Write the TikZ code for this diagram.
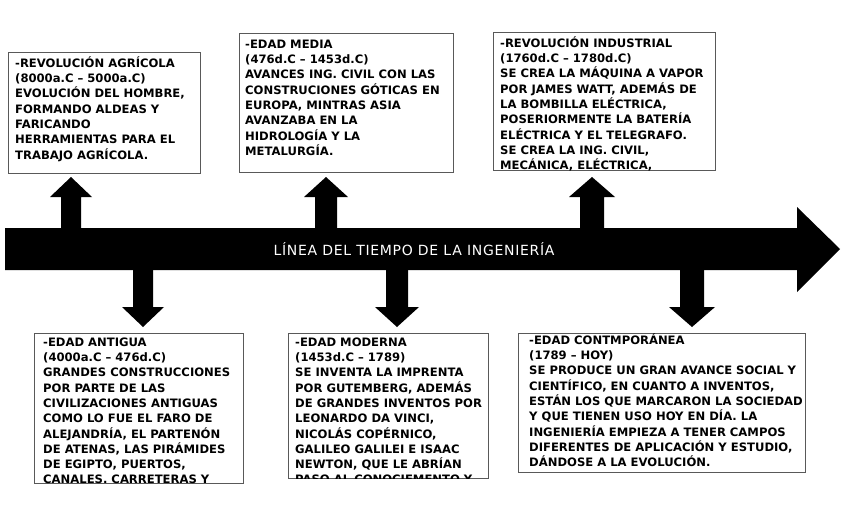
\documentclass[tikz,border=0pt]{standalone}
\usepackage{fontspec}
\setmainfont{DejaVu Sans}
\newfontfamily\titlefont[LetterSpace=5]{DejaVu Sans}
\begin{document}
\begin{tikzpicture}[x=1pt,y=-1pt,
  infobox/.style={draw=black!65,line width=0.9pt,fill=white},
  infotext/.style={anchor=north west,inner sep=0pt,align=left,font=\bfseries\fontsize{11.6}{15.3}\selectfont},
  blockarrow/.style={fill=black,draw=none}]
\useasboundingbox (0,0) rectangle (848,515);
\fill[white] (0,0) rectangle (848,515);
% main arrow
\fill[blockarrow] (5,228) -- (797,228) -- (797,207) -- (840,249) -- (797,292) -- (797,270) -- (5,270) -- cycle;
\node[text=white,font=\titlefont\fontsize{14}{16}\selectfont] (title) at (414,249) {LÍNEA DEL TIEMPO DE LA INGENIERÍA};
% up arrows
\foreach \c/\w/\h in {71/10/21, 326/11/22, 592/12/23}{
  \fill[blockarrow] (\c-\w,228) -- (\c-\w,197) -- (\c-\h,197) -- (\c,177) -- (\c+\h,197) -- (\c+\w,197) -- (\c+\w,228) -- cycle;
}
% down arrows
\foreach \c/\w/\h in {143/10/21, 397/11/22, 692/12/23}{
  \fill[blockarrow] (\c-\w,270) -- (\c-\w,307) -- (\c-\h,307) -- (\c,327) -- (\c+\h,307) -- (\c+\w,307) -- (\c+\w,270) -- cycle;
}
% boxes
\draw[infobox] (8,52) rectangle (200,173);
\draw[infobox] (239,33) rectangle (453,172);
\draw[infobox] (493,32) rectangle (715,170);
\draw[infobox] (34,333) rectangle (243,483);
\draw[infobox] (288,333) rectangle (488,478);
\draw[infobox] (518,333) rectangle (805,472);
\begin{scope}
\clip (8,52) rectangle (200,173);
\node[infotext] (t1) at (15,55) {\rule{0pt}{12pt}-REVOLUCIÓN AGRÍCOLA\\(8000a.C – 5000a.C)\\EVOLUCIÓN DEL HOMBRE,\\FORMANDO ALDEAS Y\\FARICANDO\\HERRAMIENTAS PARA EL\\TRABAJO AGRÍCOLA.};
\end{scope}
\begin{scope}
\clip (239,33) rectangle (453,172);
\node[infotext] (t2) at (245,36) {\rule{0pt}{12pt}-EDAD MEDIA\\(476d.C – 1453d.C)\\AVANCES ING. CIVIL CON LAS\\CONSTRUCIONES GÓTICAS EN\\EUROPA, MINTRAS ASIA\\AVANZABA EN LA\\HIDROLOGÍA Y LA\\METALURGÍA.};
\end{scope}
\begin{scope}
\clip (493,32) rectangle (715,170);
\node[infotext] (t3) at (500,35) {\rule{0pt}{12pt}-REVOLUCIÓN INDUSTRIAL\\(1760d.C – 1780d.C)\\SE CREA LA MÁQUINA A VAPOR\\POR JAMES WATT, ADEMÁS DE\\LA BOMBILLA ELÉCTRICA,\\POSERIORMENTE LA BATERÍA\\ELÉCTRICA Y EL TELEGRAFO.\\SE CREA LA ING. CIVIL,\\MECÁNICA, ELÉCTRICA,};
\end{scope}
\begin{scope}
\clip (34,333) rectangle (243,483);
\node[infotext] (t4) at (43,334) {\rule{0pt}{12pt}-EDAD ANTIGUA\\(4000a.C – 476d.C)\\GRANDES CONSTRUCCIONES\\POR PARTE DE LAS\\CIVILIZACIONES ANTIGUAS\\COMO LO FUE EL FARO DE\\ALEJANDRÍA, EL PARTENÓN\\DE ATENAS, LAS PIRÁMIDES\\DE EGIPTO, PUERTOS,\\CANALES. CARRETERAS Y};
\end{scope}
\begin{scope}
\clip (288,333) rectangle (488,478);
\node[infotext] (t5) at (295,334) {\rule{0pt}{12pt}-EDAD MODERNA\\(1453d.C – 1789)\\SE INVENTA LA IMPRENTA\\POR GUTEMBERG, ADEMÁS\\DE GRANDES INVENTOS POR\\LEONARDO DA VINCI,\\NICOLÁS COPÉRNICO,\\GALILEO GALILEI E ISAAC\\NEWTON, QUE LE ABRÍAN\\PASO AL CONOCIEMENTO Y};
\end{scope}
\begin{scope}
\clip (518,333) rectangle (805,472);
\node[infotext] (t6) at (529,332) {\rule{0pt}{12pt}-EDAD CONTMPORÁNEA\\(1789 – HOY)\\SE PRODUCE UN GRAN AVANCE SOCIAL Y\\CIENTÍFICO, EN CUANTO A INVENTOS,\\ESTÁN LOS QUE MARCARON LA SOCIEDAD\\Y QUE TIENEN USO HOY EN DÍA. LA\\INGENIERÍA EMPIEZA A TENER CAMPOS\\DIFERENTES DE APLICACIÓN Y ESTUDIO,\\DÁNDOSE A LA EVOLUCIÓN.};
\end{scope}
\end{tikzpicture}
\end{document}
